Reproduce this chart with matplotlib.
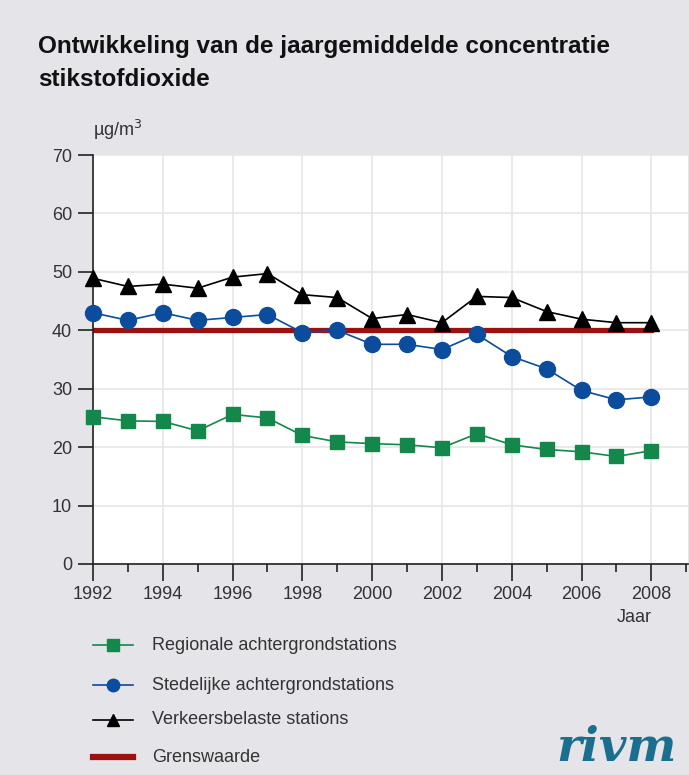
import matplotlib.pyplot as plt
from matplotlib.ticker import MultipleLocator

plt.rcParams['font.family'] = ['Liberation Sans', 'DejaVu Sans']

years = list(range(1992, 2009))
regionaal = [25.2, 24.5, 24.4, 22.8, 25.6, 25.0, 22.0, 20.9, 20.6, 20.4, 19.9, 22.3, 20.4, 19.6, 19.2, 18.4, 19.4]
stedelijk = [43.0, 41.7, 43.0, 41.7, 42.2, 42.7, 39.6, 40.0, 37.6, 37.6, 36.7, 39.3, 35.5, 33.4, 29.7, 28.1, 28.6]
verkeer = [48.9, 47.5, 47.9, 47.2, 49.1, 49.7, 46.1, 45.6, 42.0, 42.7, 41.3, 45.8, 45.6, 43.2, 41.9, 41.3, 41.3]
grenswaarde = 40

labels = ['Regionale achtergrondstations', 'Stedelijke achtergrondstations',
          'Verkeersbelaste stations', 'Grenswaarde']

bg = '#e5e5e9'
green = '#13884a'
blue = '#0b4c9c'
red = '#9c1010'

fig = plt.figure(figsize=(6.89, 7.75), dpi=100, facecolor=bg)
ax = fig.add_axes([93/689, 1 - 564/775, (688-93)/689, (564-155)/775])
ax.set_facecolor('white')

ax.plot([years[0], years[-1]], [grenswaarde, grenswaarde], color=red, lw=3.8, zorder=2)
ax.plot(years, regionaal, color=green, lw=1.2, marker='s', ms=10.5, zorder=3, clip_on=False)
ax.plot(years, stedelijk, color=blue, lw=1.2, marker='o', ms=11.5, zorder=3, clip_on=False)
ax.plot(years, verkeer, color='black', lw=1.2, marker='^', ms=11.5, zorder=4, clip_on=False)

ax.set_xlim(1992, 2009.05)
ax.set_ylim(0, 70)
ax.xaxis.set_major_locator(MultipleLocator(2))
ax.xaxis.set_minor_locator(MultipleLocator(1))
ax.yaxis.set_major_locator(MultipleLocator(10))
ax.set_xticks(range(1992, 2009, 2))
ax.grid(True, color='#e6e6e6', lw=1.2, zorder=0)
ax.set_axisbelow(True)
for s in ['top', 'right']:
    ax.spines[s].set_visible(False)
for s in ['left', 'bottom']:
    ax.spines[s].set_color('#222222')
    ax.spines[s].set_linewidth(1.2)
ax.tick_params(axis='both', which='major', length=12, width=1.2, color='#222222',
               labelsize=13, labelcolor='#333333', pad=4)
ax.tick_params(axis='x', which='minor', length=6, width=1.2, color='#222222')
ax.tick_params(axis='y', which='major', length=11)

fig.text(38/689, 1 - 47/775, 'Ontwikkeling van de jaargemiddelde concentratie',
         fontsize=17.5, fontweight='bold', va='center', ha='left', color='#111111')
fig.text(38/689, 1 - 80/775, 'stikstofdioxide',
         fontsize=17.5, fontweight='bold', va='center', ha='left', color='#111111')
fig.text(93/689, 1 - 130/775, 'µg/m$^3$', fontsize=13, va='center', ha='left', color='#333333')
fig.text(634/689, 1 - 618/775, 'Jaar', fontsize=13, va='center', ha='center', color='#333333')

# legend
ly = [645, 685, 720, 757]
styles = [dict(color=green, marker='s', ms=8, lw=1.2, markevery=[1]),
          dict(color=blue, marker='o', ms=9, lw=1.2, markevery=[1]),
          dict(color='black', marker='^', ms=9, lw=1.2, markevery=[1]),
          dict(color=red, lw=4.5)]
for y, lab, st in zip(ly, labels, styles):
    yf = 1 - y / 775
    fig.add_artist(plt.Line2D([93/689, 113/689, 133/689], [yf, yf, yf],
                              transform=fig.transFigure, **st))
    fig.text(152/689, yf, lab, fontsize=13, va='center', ha='left', color='#333333')

fig.text(617/689, 1 - 748/775, 'rivm', fontsize=34, fontweight='bold', fontstyle='italic',
         family='DejaVu Serif', color='#1a6f8e', va='center', ha='center')

fig.savefig('out.png', dpi=100, facecolor=bg)
